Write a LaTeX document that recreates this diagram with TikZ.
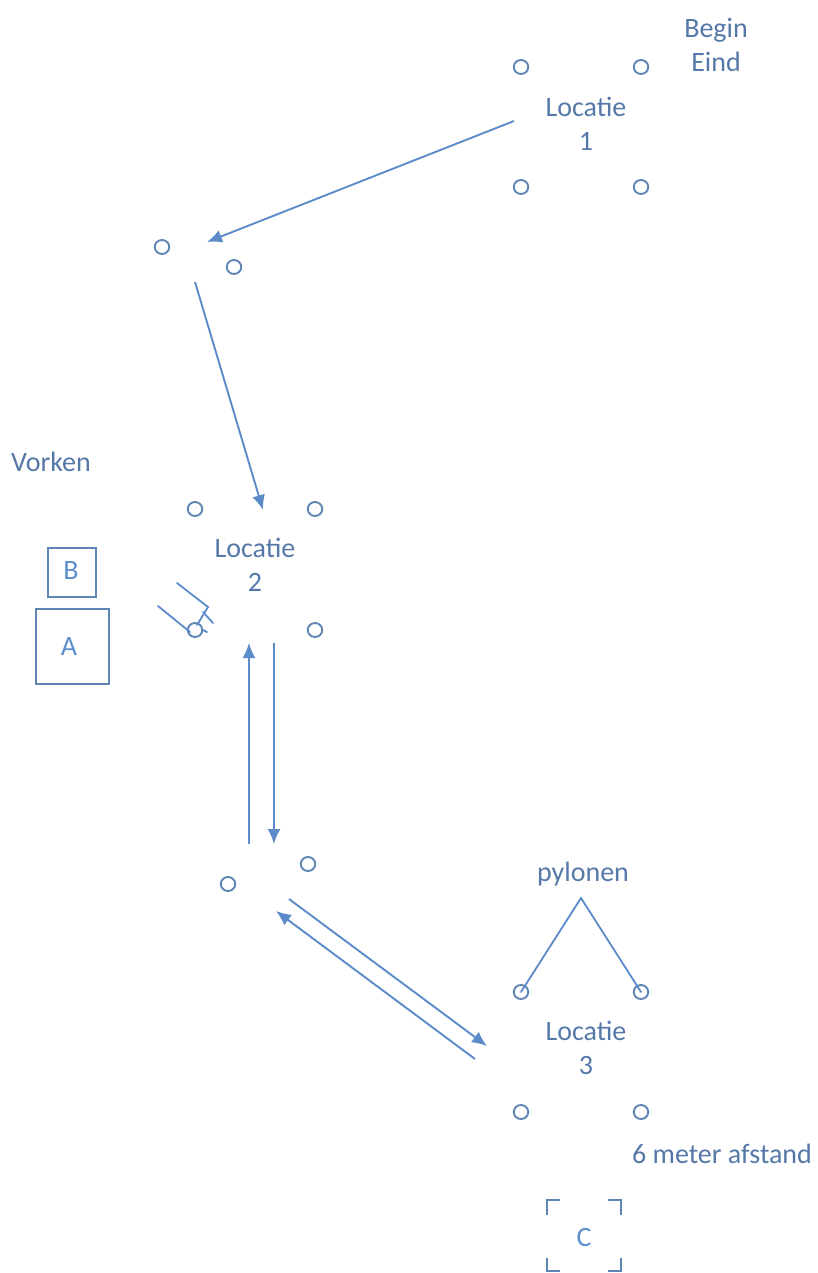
\documentclass[tikz,border=0pt]{standalone}
\usepackage{fontspec}
\setmainfont{Carlito}
\usetikzlibrary{arrows.meta,shapes.geometric}
\definecolor{lab}{HTML}{5578A8}
\definecolor{ln}{HTML}{5B8BC8}
\definecolor{dk}{HTML}{5F85B5}
\definecolor{let}{HTML}{5B8FCC}
\tikzset{
 x=1pt,y=-1pt,
 pyl/.style={ellipse,draw=dk,line width=1.9pt,minimum width=14.5pt,minimum height=14pt,inner sep=0pt},
 txt/.style={text=lab,font=\fontsize{28}{34}\selectfont,align=center,inner sep=0pt},
 arr/.style={draw=ln,line width=1.9pt,-{Latex[length=15pt,width=13pt]}},
 thin line/.style={draw=ln,line width=1.8pt,line cap=round},
 boxs/.style={draw=dk,line width=2pt,inner sep=0pt},
 cornermark/.style={draw=dk,line width=1.9pt},
 boxlabel/.style={text=let,font=\fontsize{28}{30}\selectfont,inner sep=0pt}
}
\begin{document}
\begin{tikzpicture}
\useasboundingbox (0,0) rectangle (817,1273);
% pylons
\node[pyl] (p1a) at (521,67) {};
\node[pyl] (p1b) at (641,67) {};
\node[pyl] (p1c) at (521,187) {};
\node[pyl] (p1d) at (641,187) {};
\node[pyl] (pa) at (162,247) {};
\node[pyl] (pb) at (234,267) {};
\node[pyl] (p2a) at (195,509) {};
\node[pyl] (p2b) at (315,509) {};
\node[pyl] (p2c) at (195,630) {};
\node[pyl] (p2d) at (315,630) {};
\node[pyl] (pc) at (228,884) {};
\node[pyl] (pd) at (308,864) {};
\node[pyl] (p3a) at (521,992) {};
\node[pyl] (p3b) at (641,992) {};
\node[pyl] (p3c) at (521,1112) {};
\node[pyl] (p3d) at (641,1112) {};
% labels
\node[txt] (be) at (716,45) {Begin\\Eind};
\node[txt] (l1) at (586,124) {Locatie\\1};
\node[txt] (vork) at (51,462) {Vorken};
\node[txt] (l2) at (255,565) {Locatie\\2};
\node[txt] (pyln) at (583,874) {pylonen};
\node[txt] (l3) at (586,1048) {Locatie\\3};
\node[txt] (afst) at (722,1154) {6 meter afstand};
\node[boxlabel] (cc) at (584,1237) {C};
% boxes
\node[boxs,minimum width=48pt,minimum height=49pt] (B) at (72,572.5) {};
\node[boxs,minimum width=73pt,minimum height=75pt] (A) at (72.3,646.3) {};
\node[boxlabel] (Bl) at (71,571) {B};
\node[boxlabel] (Al) at (69,647) {A};
% arrow ends
\coordinate (a1) at (514,121);
\coordinate (a2) at (207,242);
\coordinate (b1) at (195,282);
\coordinate (b2) at (263,510);
\coordinate (c1) at (249,844);
\coordinate (c2) at (249,643);
\coordinate (d1) at (274,643);
\coordinate (d2) at (274,844);
\coordinate (e1) at (289,899);
\coordinate (e2) at (487,1046);
\coordinate (f1) at (475,1059);
\coordinate (f2) at (276,911);
\draw[arr] (a1) -- (a2);
\draw[arr] (b1) -- (b2);
\draw[arr] (c1) -- (c2);
\draw[arr] (d1) -- (d2);
\draw[arr] (e1) -- (e2);
\draw[arr] (f1) -- (f2);
% pylonen lines
\coordinate (top) at (581,898);
\draw[thin line] (p3a.center) -- (top) -- (p3b.center);
% fork
\coordinate (f-a) at (177,583);
\coordinate (f-b) at (208,607);
\coordinate (f-c) at (197,625);
\coordinate (f-d) at (158,606);
\coordinate (f-e) at (190,632);
\coordinate (f-f) at (203,612);
\coordinate (f-g) at (213,623);
\coordinate (f-h) at (203,630);
\coordinate (f-i) at (207,632);
\draw[thin line] (f-a) -- (f-b) -- (f-c);
\draw[thin line] (f-d) -- (f-e);
\draw[thin line] (f-f) -- (f-g);
\draw[thin line] (f-h) -- (f-i);
% corner marks
\coordinate (k1) at (547,1215); \coordinate (k2) at (547,1200); \coordinate (k3) at (560,1200);
\coordinate (k4) at (608,1200); \coordinate (k5) at (621,1200); \coordinate (k6) at (621,1215);
\coordinate (k7) at (547,1258); \coordinate (k8) at (547,1271); \coordinate (k9) at (560,1271);
\coordinate (k10) at (608,1271); \coordinate (k11) at (621,1271); \coordinate (k12) at (621,1258);
\draw[cornermark] (k1) -- (k2) -- (k3);
\draw[cornermark] (k4) -- (k5) -- (k6);
\draw[cornermark] (k7) -- (k8) -- (k9);
\draw[cornermark] (k10) -- (k11) -- (k12);
\end{tikzpicture}
\end{document}
